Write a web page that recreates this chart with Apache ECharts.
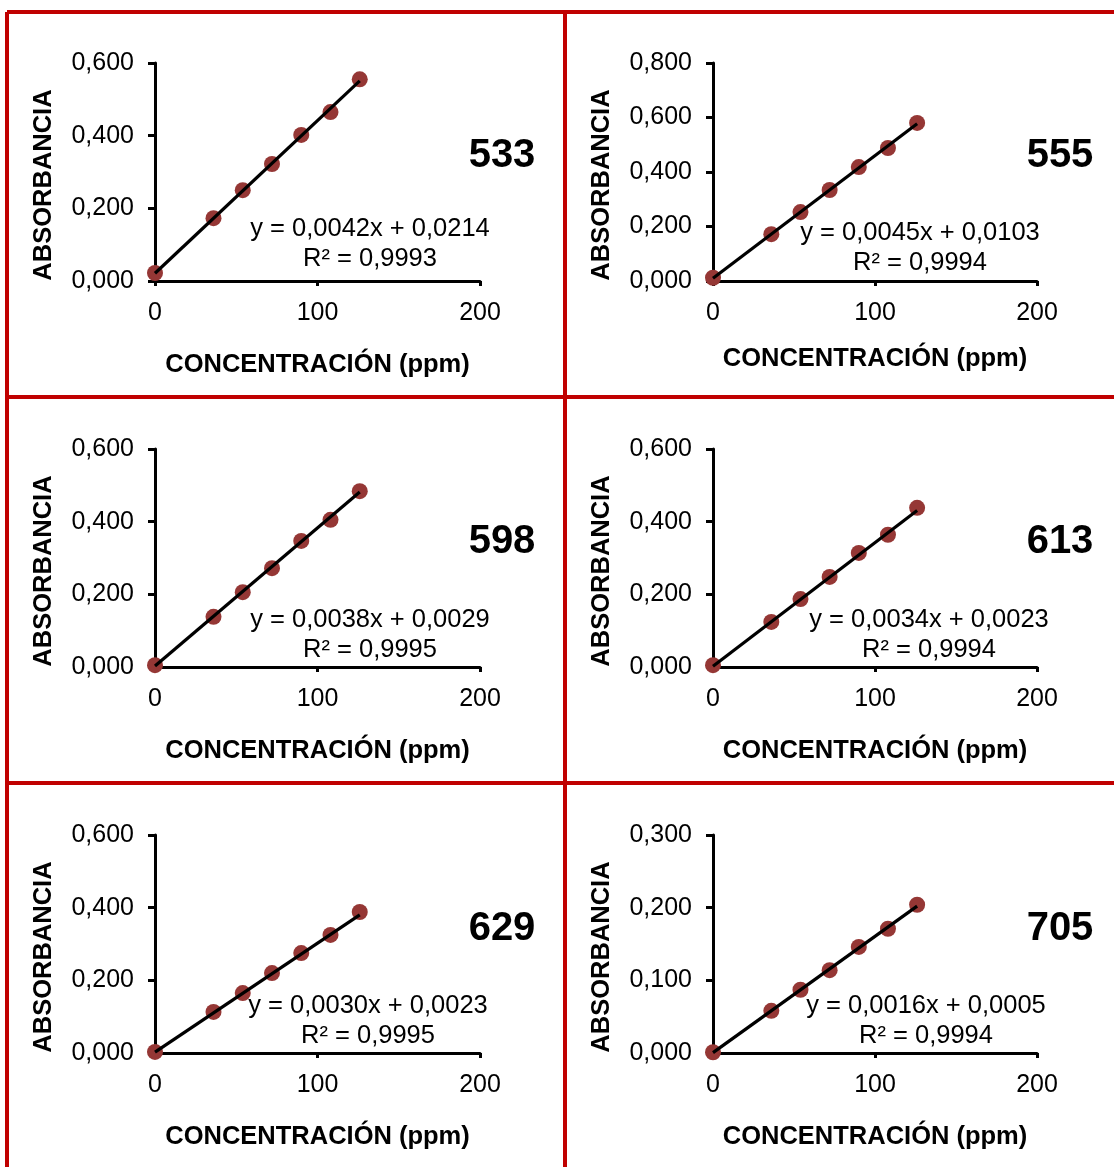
<!DOCTYPE html>
<html>
<head>
<meta charset="utf-8">
<script src="https://cdn.jsdelivr.net/npm/echarts@6/dist/echarts.min.js"></script>
<style>
  html, body { margin: 0; padding: 0; background: #fff; }
  #main { width: 1114px; height: 1167px; }
</style>
</head>
<body>
<div id="main"></div>
<script>
// concentraciones de los patrones (ppm)
var concentracion = [0, 36, 54, 72, 90, 108, 126];

var abs533 = [0.022, 0.173, 0.250, 0.322, 0.402, 0.465, 0.555];
var abs555 = [0.012, 0.172, 0.253, 0.334, 0.418, 0.488, 0.580];
var abs598 = [0.005, 0.138, 0.206, 0.272, 0.347, 0.405, 0.484];
var abs613 = [0.005, 0.124, 0.187, 0.248, 0.314, 0.364, 0.438];
var abs629 = [0.003, 0.113, 0.165, 0.220, 0.275, 0.325, 0.388];
var abs705 = [0.001, 0.058, 0.087, 0.114, 0.146, 0.171, 0.204];

var longitudes = ['533', '555', '598', '613', '629', '705'];
var pendientes = [0.0042, 0.0045, 0.0038, 0.0034, 0.0030, 0.0016];
var intercepciones = [0.0214, 0.0103, 0.0029, 0.0023, 0.0023, 0.0005];
var r2 = ['0,9993', '0,9994', '0,9995', '0,9994', '0,9995', '0,9994'];
var yMax = [0.6, 0.8, 0.6, 0.6, 0.6, 0.3];
var yPaso = [0.2, 0.2, 0.2, 0.2, 0.2, 0.1];

var absorbancias = [abs533, abs555, abs598, abs613, abs629, abs705];

// layout
var colLeft = [155, 713];
var rowTop = [63, 449, 835];
var gridW = 325, gridH = 218;
var eqPos = [[370, 229], [920, 233], [370, 620], [929, 620], [368, 1006], [926, 1006]];
var numPos = [[502, 156], [1060, 156], [502, 542], [1060, 542], [502, 929], [1060, 929]];
var xNameGap = [71, 65, 71, 71, 71, 71];

var font = "'Liberation Sans', Arial, sans-serif";
var rojo = '#c00000';
var marron = '#953735';

function coma(v, d) {
  return v.toFixed(d).replace('.', ',');
}

var chart = echarts.init(document.getElementById('main'));

var grids = [], xAxes = [], yAxes = [], series = [], graphics = [];

for (var i = 0; i < 6; i++) {
  var col = i % 2, row = Math.floor(i / 2);
  grids.push({ left: colLeft[col], top: rowTop[row], width: gridW - col, height: gridH });

  xAxes.push({
    type: 'value', gridIndex: i, min: 0, max: 200, interval: 100,
    name: 'CONCENTRACIÓN (ppm)', nameLocation: 'middle', nameGap: xNameGap[i],
    nameTextStyle: { fontFamily: font, fontSize: 25.5, fontWeight: 'bold', color: '#000' },
    axisLine: { show: true, onZero: false, lineStyle: { color: '#000', width: 3 } },
    axisTick: { show: true, length: 5, lineStyle: { color: '#000', width: 3 } },
    axisLabel: { fontFamily: font, fontSize: 25, color: '#000', margin: 20 },
    splitLine: { show: false }
  });

  yAxes.push({
    type: 'value', gridIndex: i, min: 0, max: yMax[i], interval: yPaso[i],
    name: 'ABSORBANCIA', nameLocation: 'middle', nameGap: 98, nameRotate: 90,
    nameTextStyle: { fontFamily: font, fontSize: 25.5, fontWeight: 'bold', color: '#000', padding: [0, 26, 0, 0] },
    axisLine: { show: true, onZero: false, lineStyle: { color: '#000', width: 3 } },
    axisTick: { show: true, length: 7, lineStyle: { color: '#000', width: 3 } },
    axisLabel: { fontFamily: font, fontSize: 25, color: '#000', margin: 21,
      formatter: function (v) { return coma(v, 3); } },
    splitLine: { show: false }
  });

  var pts = concentracion.map(function (x, k) { return [x, absorbancias[i][k]]; });
  series.push({
    type: 'scatter', xAxisIndex: i, yAxisIndex: i,
    symbol: 'circle', symbolSize: 16,
    itemStyle: { color: marron, opacity: 1 },
    data: pts, z: 2, silent: true
  });

  var xFin = concentracion[concentracion.length - 1];
  series.push({
    type: 'line', xAxisIndex: i, yAxisIndex: i,
    showSymbol: false, silent: true,
    lineStyle: { color: '#000', width: 3.2 },
    data: [[0, intercepciones[i]], [xFin, pendientes[i] * xFin + intercepciones[i]]],
    z: 3
  });

  graphics.push({
    type: 'text', x: eqPos[i][0], y: eqPos[i][1],
    style: {
      text: 'y = ' + coma(pendientes[i], 4) + 'x + ' + coma(intercepciones[i], 4),
      font: '25.5px ' + font, fill: '#000', align: 'center', verticalAlign: 'middle'
    }, z: 10
  });
  graphics.push({
    type: 'text', x: eqPos[i][0], y: eqPos[i][1] + 30,
    style: {
      text: 'R² = ' + r2[i],
      font: '25.5px ' + font, fill: '#000', align: 'center', verticalAlign: 'middle'
    }, z: 10
  });
  graphics.push({
    type: 'text', x: numPos[i][0], y: numPos[i][1],
    style: {
      text: longitudes[i],
      font: 'bold 40px ' + font, fill: '#000', align: 'center', verticalAlign: 'middle'
    }, z: 10
  });
}

// marcos rojos
var bordes = [
  [7, 12, 1114, 12], [7, 397, 1114, 397], [7, 783, 1114, 783],
  [7, 12, 7, 1167], [565, 12, 565, 1167]
];
bordes.forEach(function (b) {
  graphics.push({
    type: 'line', shape: { x1: b[0], y1: b[1], x2: b[2], y2: b[3] },
    style: { stroke: rojo, lineWidth: 4 }, z: 20
  });
});

chart.setOption({
  backgroundColor: '#fff',
  animation: false,
  grid: grids,
  xAxis: xAxes,
  yAxis: yAxes,
  series: series,
  graphic: graphics
});
</script>
</body>
</html>
